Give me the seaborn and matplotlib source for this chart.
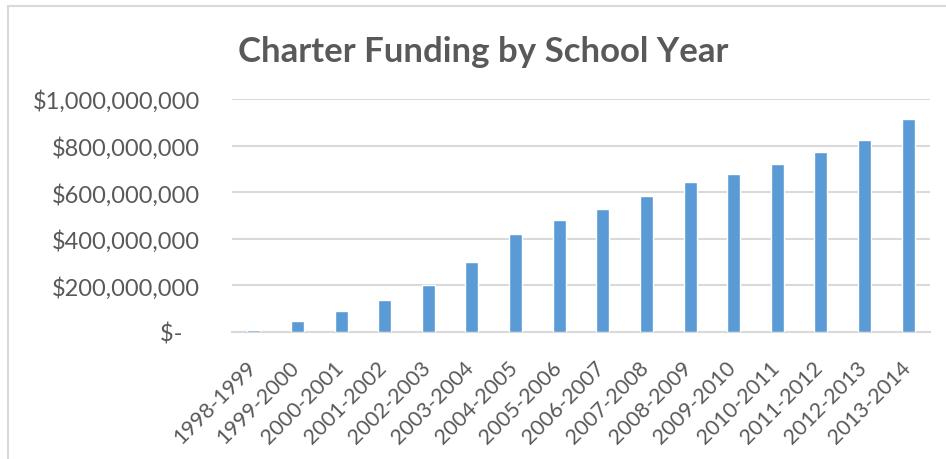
import matplotlib
matplotlib.use("Agg")
import matplotlib.pyplot as plt
import matplotlib.transforms as mtransforms
from matplotlib.lines import Line2D
from matplotlib.ticker import FuncFormatter
import seaborn as sns
import pandas as pd

# ---- data ----
school_years = ["1998-1999", "1999-2000", "2000-2001", "2001-2002", "2002-2003",
                "2003-2004", "2004-2005", "2005-2006", "2006-2007", "2007-2008",
                "2008-2009", "2009-2010", "2010-2011", "2011-2012", "2012-2013",
                "2013-2014"]
funding = [10e6, 48e6, 89e6, 137e6, 200e6, 299e6, 420e6, 480e6, 529e6, 583e6,
           643e6, 677e6, 720e6, 773e6, 823e6, 913e6]
y_ticks = [0, 200e6, 400e6, 600e6, 800e6, 1000e6]
title = "Charter Funding by School Year"

sns.set_theme(style="white")
plt.rcParams['font.family'] = ['Lato', 'DejaVu Sans']

W, H = 946, 460
fig = plt.figure(figsize=(W / 100, H / 100), dpi=100)
fig.patch.set_facecolor("white")
ax = fig.add_axes([232 / W, 1 - 333 / H, (930 - 232) / W, (333 - 100) / H])

df = pd.DataFrame({"year": school_years, "funding": funding})
sns.barplot(data=df, x="year", y="funding", color="#5B9BD5", saturation=1,
            width=0.3, ax=ax, zorder=3)

grey = "#D9D9D9"
text_col = "#595959"

ax.set_ylim(0, 1e9)
ax.set_yticks(y_ticks)


def fmt(v, pos):
    if v == 0:
        return "$-   "
    return "${:,.0f}".format(v)


ax.yaxis.set_major_formatter(FuncFormatter(fmt))
ax.set_xlabel("")
ax.set_ylabel("")
ax.yaxis.grid(True, color=grey, linewidth=1.5)
ax.set_axisbelow(True)
for s in ["left", "right", "top"]:
    ax.spines[s].set_visible(False)
ax.spines["bottom"].set_color(grey)
ax.spines["bottom"].set_linewidth(1.5)
ax.spines["bottom"].set_zorder(1)

ax.tick_params(axis="y", length=0, pad=23, labelsize=17, labelcolor=text_col)
ax.tick_params(axis="x", length=0, pad=18, labelsize=15.5, labelcolor=text_col)
offset = mtransforms.ScaledTranslation(6 / 100, 0, fig.dpi_scale_trans)
for lab in ax.get_xticklabels():
    lab.set_rotation(45)
    lab.set_ha("right")
    lab.set_transform(lab.get_transform() + offset)

fig.text(483 / W, 1 - 62 / H, title, ha="center", va="baseline",
         fontsize=25, fontweight="bold", color=text_col)

# chart-area border (left and top edges visible)
fig.add_artist(Line2D([8 / W, 8 / W], [0, 1 - 7 / H], transform=fig.transFigure,
                      color=grey, linewidth=1.5))
fig.add_artist(Line2D([8 / W, 1], [1 - 7 / H, 1 - 7 / H], transform=fig.transFigure,
                      color=grey, linewidth=1.5))

fig.savefig("out.png", dpi=100, facecolor="white")
